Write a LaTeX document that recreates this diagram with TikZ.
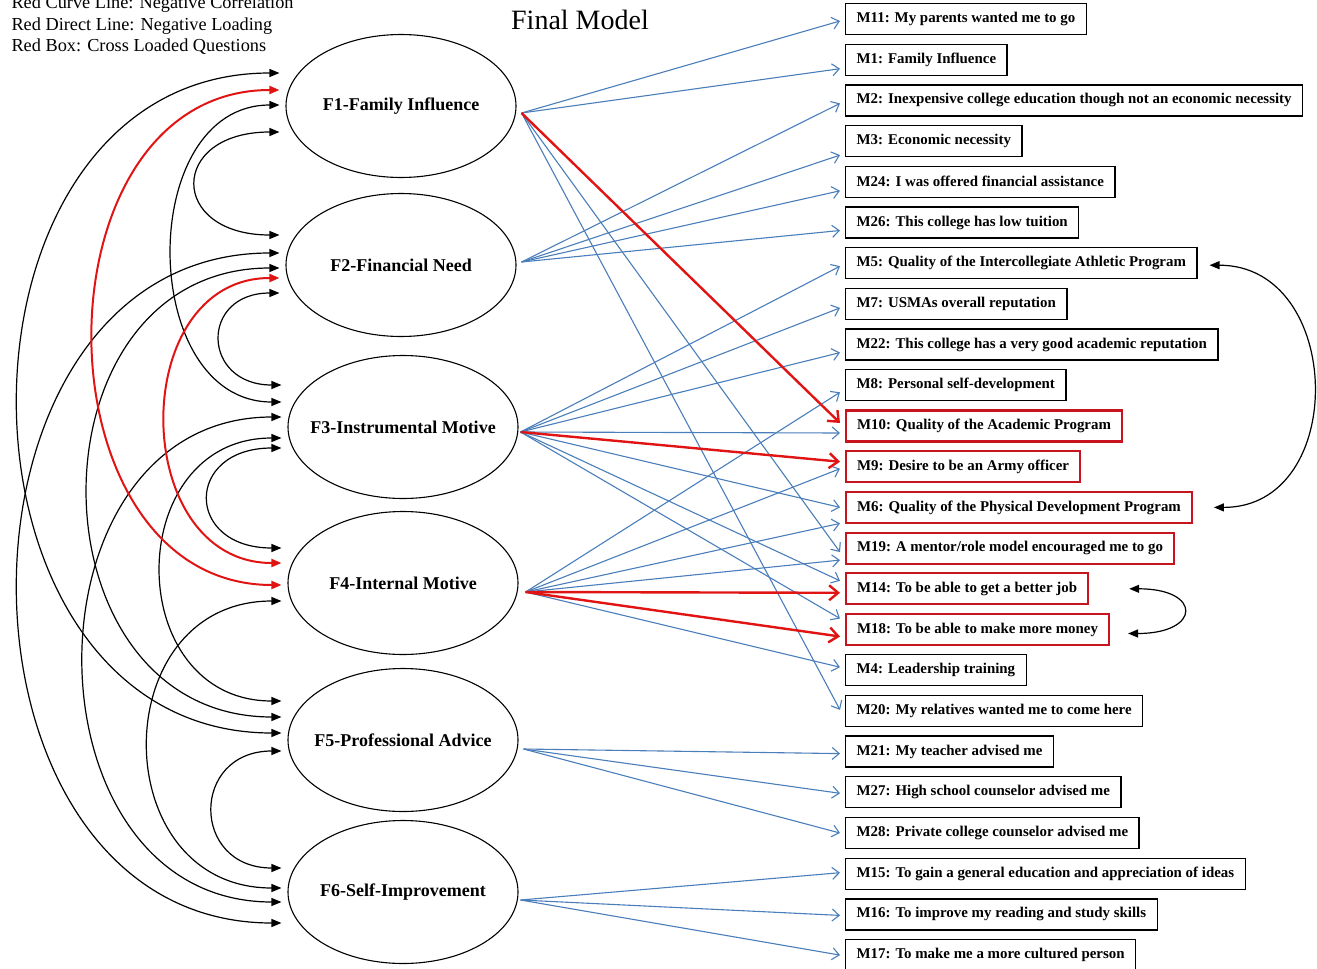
\documentclass[tikz,border=0pt]{standalone}
\usepackage{fontspec}
\setmainfont{Liberation Serif}
\usetikzlibrary{shapes.geometric,arrows.meta,calc}
\definecolor{loadblue}{RGB}{74,126,187}
\definecolor{negred}{RGB}{225,20,20}
\definecolor{boxred}{RGB}{200,20,30}
\tikzset{
  factor/.style={draw, ellipse, line width=1.1pt, minimum width=230pt, minimum height=143pt, inner sep=-30pt, font=\fontsize{18}{20}\selectfont\bfseries},
  item/.style={draw, line width=1.3pt, anchor=west, inner xsep=11pt, inner ysep=0pt, minimum height=31pt, font=\fontsize{14.9}{16}\selectfont\bfseries},
  cross/.style={item, draw=boxred, line width=2.2pt},
  load/.style={draw=loadblue, line width=1.1pt, -{Straight Barb[length=7pt,width=12pt]}},
  negload/.style={draw=negred, line width=2.4pt, -{Straight Barb[length=9pt,width=15pt]}},
  cov/.style={line width=1.2pt, {Triangle[length=10pt,width=8pt]}-{Triangle[length=10pt,width=8pt]}},
  negcov/.style={cov, draw=negred, line width=2pt},
  legend/.style={anchor=base west, font=\fontsize{18.3}{20}\selectfont}
}
\begin{document}
\begin{tikzpicture}[x=1pt, y=-1pt]
    \useasboundingbox (0,0) rectangle (1317,969);
    \node [legend] (leg1) at (8,8.5) {Red Curve Line: Negative Correlation};
    \node [legend] (leg2) at (8,30) {Red Direct Line: Negative Loading};
    \node [legend] (leg3) at (8,51.5) {Red Box: Cross Loaded Questions};
    \node [anchor=base, font=\fontsize{28}{30}\selectfont] (title) at (580,29) {Final Model};

    \node [factor] (F1) at (401,106) {F1-Family Influence};
    \node [factor] (F2) at (401,265) {F2-Financial Need};
    \node [factor] (F3) at (403,427) {F3-Instrumental Motive};
    \node [factor] (F4) at (403,583) {F4-Internal Motive};
    \node [factor] (F5) at (403,740) {F5-Professional Advice};
    \node [factor] (F6) at (403,892) {F6-Self-Improvement};

    \foreach \n/\s/\t [count=\i] in {
        m11/item/{M11: My parents wanted me to go},
        m1/item/{M1: Family Influence},
        m2/item/{M2: Inexpensive college education though not an economic necessity},
        m3/item/{M3: Economic necessity},
        m24/item/{M24: I was offered financial assistance},
        m26/item/{M26: This college has low tuition},
        m5/item/{M5: Quality of the Intercollegiate Athletic Program},
        m7/item/{M7: USMAs overall reputation},
        m22/item/{M22: This college has a very good academic reputation},
        m8/item/{M8: Personal self-development},
        m10/cross/{M10: Quality of the Academic Program},
        m9/cross/{M9: Desire to be an Army officer},
        m6/cross/{M6: Quality of the Physical Development Program},
        m19/cross/{M19: A mentor/role model encouraged me to go},
        m14/cross/{M14: To be able to get a better job},
        m18/cross/{M18: To be able to make more money},
        m4/item/{M4: Leadership training},
        m20/item/{M20: My relatives wanted me to come here},
        m21/item/{M21: My teacher advised me},
        m27/item/{M27: High school counselor advised me},
        m28/item/{M28: Private college counselor advised me},
        m15/item/{M15: To gain a general education and appreciation of ideas},
        m16/item/{M16: To improve my reading and study skills},
        m17/item/{M17: To make me a more cultured person}} {
        \node [\s] (\n) at (845,{19+40.7*(\i-1)}) {\t};
    }

    \coordinate (o1) at ($(F1.east)+(5,7)$);
    \coordinate (o2) at ($(F2.east)+(5,-3)$);
    \coordinate (o3) at ($(F3.east)+(2,5)$);
    \coordinate (o4) at ($(F4.east)+(7,9)$);
    \coordinate (o5) at ($(F5.east)+(5,9)$);
    \coordinate (o6) at ($(F6.east)+(2,8)$);

    \foreach \f/\m/\d in {1/m11/2, 1/m1/9, 1/m19/4, 1/m20/-1,
        2/m2/3, 2/m3/14, 2/m24/9, 2/m26/8,
        3/m5/3, 3/m7/4, 3/m22/8, 3/m10/7, 3/m6/0, 3/m14/-8, 3/m18/-11,
        4/m8/7, 4/m9/2, 4/m6/16, 4/m19/12, 4/m4/-3,
        5/m21/2, 5/m27/1, 5/m28/0, 6/m15/-1, 6/m16/1, 6/m17/0} {
        \draw [load] (o\f) -- ($(\m.west)+(-5,\d)$);
    }
    \foreach \f/\m/\d in {1/m10/-3, 3/m9/-5, 4/m14/4, 4/m18/7} {
        \draw [negload] (o\f) -- ($(\m.west)+(-5,\d)$);
    }

    \foreach \a/\ya/\b/\yb/\d in {F1/-33/F5/-7/349, F1/-1/F3/-25/144, F1/26/F2/-30/111,
        F2/-12/F6/31/349, F2/3/F5/-23/256, F2/28/F3/-42/80,
        F3/-10/F6/10/263, F3/11/F5/-39/160, F3/21/F4/-35/97,
        F4/18/F6/-4/177, F5/11/F6/-24/91} {
        \draw [cov] ($(\a.west)+(-6,\ya)$) .. controls +(-\d,0) and +(-\d,0) .. ($(\b.west)+(-6,\yb)$);
    }
    \draw [negcov] ($(F1.west)+(-6,-16)$) .. controls +(-249,0) and +(-249,0) .. ($(F4.west)+(-6,2)$);
    \draw [negcov] ($(F2.west)+(-6,13)$) .. controls +(-153,0) and +(-153,0) .. ($(F4.west)+(-6,-20)$);

    \draw [cov] ($(m5.east)+(12,2)$) .. controls +(135,0) and +(135,0) .. ($(m6.east)+(21,0)$);
    \draw [cov] ($(m14.east)+(40,0)$) .. controls +(73,0) and +(73,0) .. ($(m18.east)+(18,4)$);
\end{tikzpicture}
\end{document}
